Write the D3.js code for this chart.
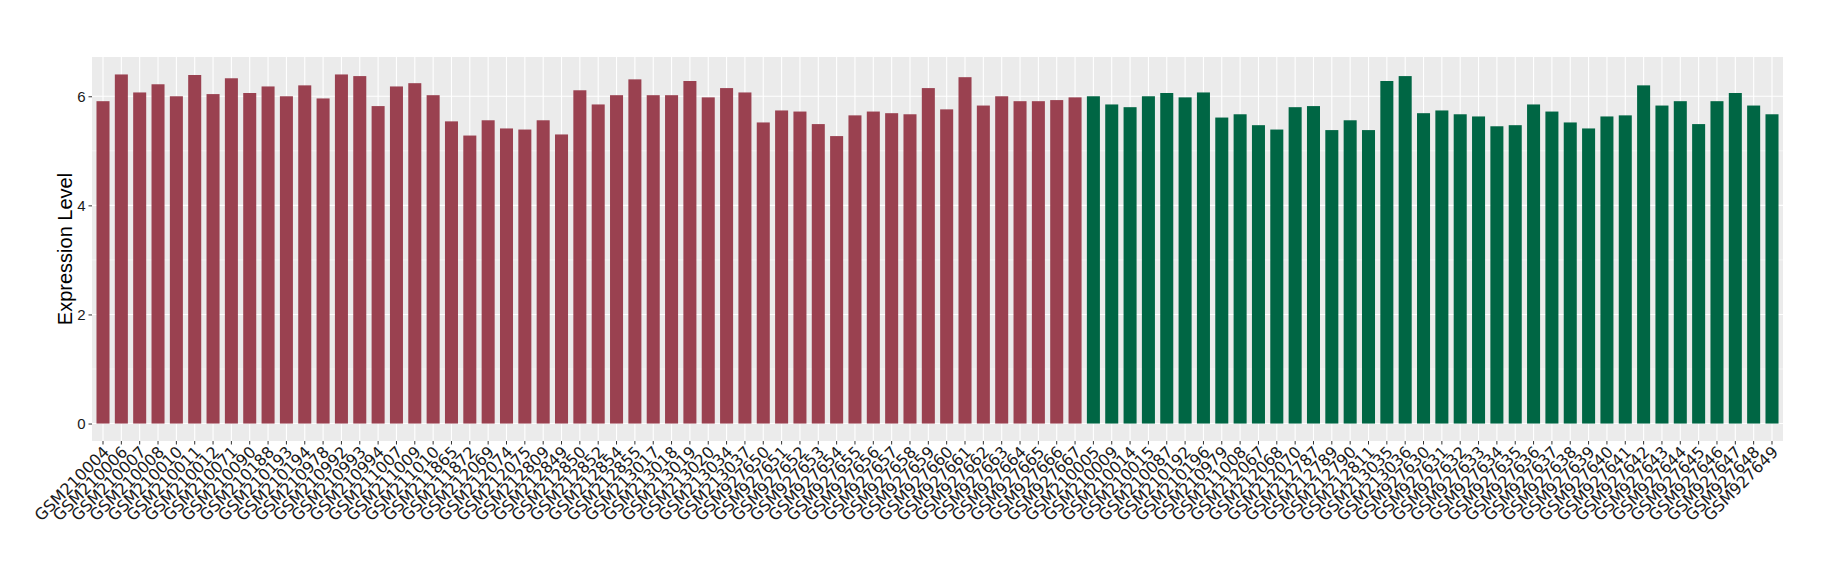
<!DOCTYPE html>
<html>
<head>
<meta charset="utf-8">
<script src="https://cdn.jsdelivr.net/npm/d3@7"></script>
<style>
  body { margin: 0; background: #fff; }
  text { font-family: "Liberation Sans", Arial, sans-serif; }
</style>
</head>
<body>
<div id="chart"></div>
<script>
// samples, group 1 (red) then group 2 (green)
var samplesA = ["GSM210004","GSM210006","GSM210007","GSM210008","GSM210010","GSM210011","GSM210012","GSM210071",
  "GSM210090","GSM210188","GSM210193","GSM210194","GSM210978","GSM210992","GSM210993","GSM210994","GSM211007",
  "GSM211009","GSM211010","GSM211865","GSM211872","GSM212069","GSM212074","GSM212075","GSM212809","GSM212849",
  "GSM212850","GSM212852","GSM212854","GSM212855","GSM213017","GSM213018","GSM213019","GSM213020","GSM213034",
  "GSM213037","GSM927650","GSM927651","GSM927652","GSM927653","GSM927654","GSM927655","GSM927656","GSM927657",
  "GSM927658","GSM927659","GSM927660","GSM927661","GSM927662","GSM927663","GSM927664","GSM927665","GSM927666",
  "GSM927667"];
var valuesA = [5.91,6.40,6.07,6.22,6.00,6.39,6.04,6.33,6.06,6.18,6.00,6.20,5.96,6.40,6.37,5.82,6.18,6.24,6.02,
  5.54,5.28,5.56,5.41,5.39,5.56,5.30,6.11,5.85,6.02,6.31,6.02,6.02,6.28,5.98,6.15,6.07,5.52,
  5.74,5.72,5.49,5.27,5.65,5.72,5.69,5.67,6.15,5.76,6.35,5.83,6.00,5.91,5.91,5.93,5.98];

var samplesB = ["GSM210005","GSM210009","GSM210014","GSM210015","GSM210087","GSM210192","GSM210196","GSM210979",
  "GSM211008","GSM212067","GSM212068","GSM212070","GSM212787","GSM212789","GSM212790","GSM212811","GSM213035",
  "GSM213036","GSM927630","GSM927631","GSM927632","GSM927633","GSM927634","GSM927635","GSM927636","GSM927637",
  "GSM927638","GSM927639","GSM927640","GSM927641","GSM927642","GSM927643","GSM927644","GSM927645","GSM927646",
  "GSM927647","GSM927648","GSM927649"];
var valuesB = [6.00,5.85,5.80,6.00,6.06,5.98,6.07,5.61,5.67,5.47,5.39,5.80,5.82,5.38,5.56,5.38,6.28,6.37,
  5.69,5.74,5.67,5.63,5.45,5.47,5.85,5.72,5.52,5.41,5.63,5.65,6.20,5.83,5.91,5.49,5.91,6.06,5.83,5.67];

var yTicks = [0, 2, 4, 6];
var yMinor = [1, 3, 5];
var colors = {A: "#9a4150", B: "#006644"};

var data = [];
samplesA.forEach(function(s, i){ data.push({name: s, value: valuesA[i], grp: "A"}); });
samplesB.forEach(function(s, i){ data.push({name: s, value: valuesB[i], grp: "B"}); });

var W = 1840, H = 580;
var panel = {left: 92, right: 1783, top: 57, bottom: 441};

var svg = d3.select("#chart").append("svg")
  .attr("width", W).attr("height", H);

var x = d3.scalePoint()
  .domain(data.map(function(d){ return d.name; }))
  .range([panel.left, panel.right])
  .padding(0.6);

var maxV = d3.max(data, function(d){ return d.value; });
var pad = maxV * 0.05;
var y = d3.scaleLinear()
  .domain([-pad, maxV + pad])
  .range([panel.bottom, panel.top]);

// panel background
svg.append("rect")
  .attr("x", panel.left).attr("y", panel.top)
  .attr("width", panel.right - panel.left)
  .attr("height", panel.bottom - panel.top)
  .attr("fill", "#ebebeb");

// grid
svg.selectAll(".minor").data(yMinor).enter().append("line")
  .attr("x1", panel.left).attr("x2", panel.right)
  .attr("y1", function(d){ return y(d); }).attr("y2", function(d){ return y(d); })
  .attr("stroke", "#fff").attr("stroke-width", 0.55);
svg.selectAll(".major").data(yTicks).enter().append("line")
  .attr("x1", panel.left).attr("x2", panel.right)
  .attr("y1", function(d){ return y(d); }).attr("y2", function(d){ return y(d); })
  .attr("stroke", "#fff").attr("stroke-width", 1.1);
svg.selectAll(".vgrid").data(data).enter().append("line")
  .attr("x1", function(d){ return x(d.name); }).attr("x2", function(d){ return x(d.name); })
  .attr("y1", panel.top).attr("y2", panel.bottom)
  .attr("stroke", "#fff").attr("stroke-width", 1.1);

// bars
var bw = x.step() * 0.71;
svg.selectAll(".bar").data(data).enter().append("rect")
  .attr("x", function(d){ return x(d.name) - bw / 2; })
  .attr("width", bw)
  .attr("y", function(d){ return y(d.value); })
  .attr("height", function(d){ return y(0) - y(d.value); })
  .attr("fill", function(d){ return colors[d.grp]; });

// y axis
var yAxis = d3.axisLeft(y).tickValues(yTicks).tickSize(3.5).tickPadding(3).tickFormat(d3.format("d"));
var gy = svg.append("g")
  .attr("transform", "translate(" + panel.left + ",0)")
  .call(yAxis);
gy.select(".domain").remove();
gy.selectAll(".tick line").attr("stroke", "#333");
gy.selectAll(".tick text").attr("fill", "#1a1a1a").style("font-size", "15px");

// x axis ticks
svg.selectAll(".xtick").data(data).enter().append("line")
  .attr("x1", function(d){ return x(d.name); }).attr("x2", function(d){ return x(d.name); })
  .attr("y1", panel.bottom).attr("y2", panel.bottom + 3.5)
  .attr("stroke", "#333");

svg.selectAll(".xlab").data(data).enter().append("text")
  .attr("transform", function(d){ return "translate(" + (x(d.name) - 1) + "," + (panel.bottom + 4) + ") rotate(-45)"; })
  .attr("text-anchor", "end")
  .attr("dy", "0.72em")
  .attr("fill", "#1a1a1a")
  .style("font-family", "'DejaVu Sans', sans-serif")
  .style("font-size", "16px")
  .text(function(d){ return d.name; });

// y title
svg.append("text")
  .attr("transform", "translate(" + 65 + "," + ((panel.top + panel.bottom) / 2) + ") rotate(-90)")
  .attr("text-anchor", "middle")
  .attr("dy", "0.35em")
  .style("font-size", "20px")
  .text("Expression Level");
</script>
</body>
</html>
